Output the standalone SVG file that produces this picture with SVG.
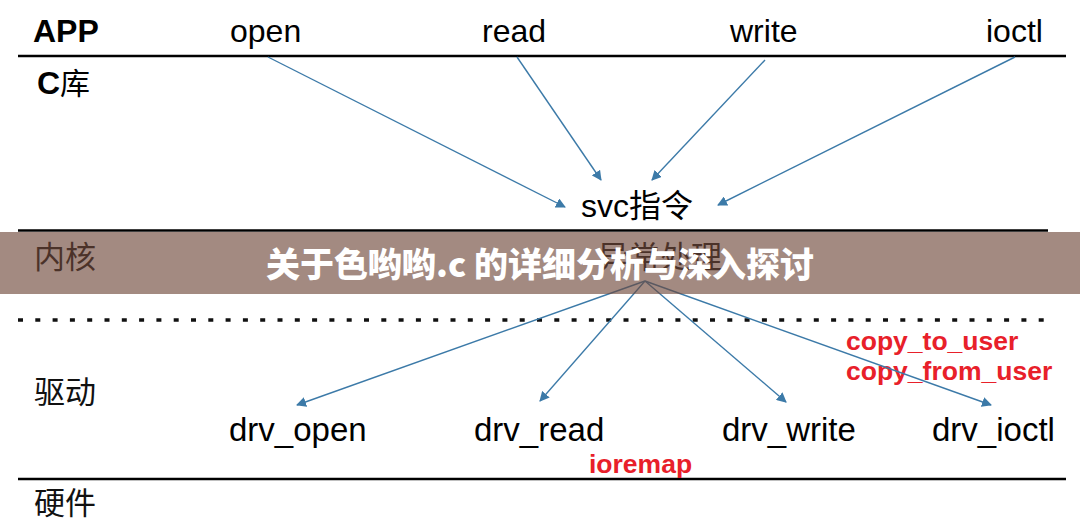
<svg xmlns="http://www.w3.org/2000/svg" width="1080" height="529" viewBox="0 0 1080 529">
<style>
.t{font-family:"Liberation Sans","Noto Sans CJK SC",sans-serif;font-size:32px;fill:#000}
.d{font-size:33px}
.cj{font-family:"Noto Sans CJK SC","Liberation Sans",sans-serif;font-size:31px;fill:#111}
.b{font-weight:bold}
.red{font-family:"Liberation Sans",sans-serif;font-weight:bold;font-size:26.5px;fill:#e8202a}
.ln{stroke:#000;stroke-width:2.5}
.ar{stroke:#3c7aa8;stroke-width:1.4;fill:none;marker-end:url(#ah)}
</style>
<defs>
<marker id="ah" viewBox="0 0 10 10" refX="9" refY="5" markerWidth="10" markerHeight="10" markerUnits="userSpaceOnUse" orient="auto">
<path d="M0,0 L10,5 L0,10 Z" fill="#3c7aa8"/>
</marker>
</defs>
<rect width="1080" height="529" fill="#fff"/>
<g id="layers">
<line class="ln" x1="18" y1="56" x2="1066" y2="56"/>
<line class="ln" x1="18" y1="230.5" x2="1048" y2="230.5" stroke="#222"/>
<line x1="18" y1="320" x2="1054" y2="320" stroke="#111" stroke-width="3.5" stroke-dasharray="5 12.3"/>
<line class="ln" x1="18" y1="479" x2="1066" y2="479"/>
</g>
<g id="labels">
<text class="t b" x="33" y="42" font-size="33">APP</text>
<text class="t" x="37" y="94"><tspan class="b">C</tspan><tspan font-family="Noto Sans CJK SC" font-size="30">库</tspan></text>
<text class="cj" x="34" y="268">内核</text>
<text class="cj" x="34" y="403">驱动</text>
<text class="cj" x="34" y="514">硬件</text>
</g>
<g id="node-open"><text class="t" x="230" y="42">open</text></g>
<g id="node-read"><text class="t" x="482" y="42">read</text></g>
<g id="node-write"><text class="t" x="730" y="42">write</text></g>
<g id="node-ioctl"><text class="t" x="986" y="42">ioctl</text></g>
<g id="node-svc"><text class="t" x="581" y="217">svc<tspan font-family="Noto Sans CJK SC" font-size="32">指令</tspan></text></g>
<g id="node-exc"><text class="cj" x="598" y="268">异常处理</text></g>
<g id="node-drv_open"><text class="t d" x="229" y="441">drv_open</text></g>
<g id="node-drv_read"><text class="t d" x="474" y="441">drv_read</text></g>
<g id="node-drv_write"><text class="t d" x="722" y="441">drv_write</text></g>
<g id="node-drv_ioctl"><text class="t d" x="932" y="441">drv_ioctl</text></g>
<g id="notes">
<text class="red" x="846" y="350">copy_to_user</text>
<text class="red" x="846" y="380">copy_from_user</text>
<text class="red" x="589" y="473">ioremap</text>
</g>
<g id="connectors">
<line class="ar" x1="268" y1="57" x2="565" y2="207"/>
<line class="ar" x1="517" y1="57" x2="601" y2="180"/>
<line class="ar" x1="765" y1="60" x2="652" y2="180"/>
<line class="ar" x1="1015" y1="57" x2="718" y2="205"/>
<line class="ar" x1="645" y1="281" x2="297" y2="405"/>
<line class="ar" x1="645" y1="281" x2="540" y2="401"/>
<line class="ar" x1="645" y1="281" x2="786" y2="402"/>
<line class="ar" x1="645" y1="281" x2="991" y2="405"/>
</g>
<g id="banner">
<rect x="0" y="232" width="1080" height="62" fill="#6e4637" fill-opacity="0.63"/>
<text x="540" y="277" text-anchor="middle" font-family="Noto Sans CJK SC,sans-serif" font-weight="900" font-size="34" fill="#fff">关于色哟哟.c 的详细分析与深入探讨</text>
</g>
</svg>
